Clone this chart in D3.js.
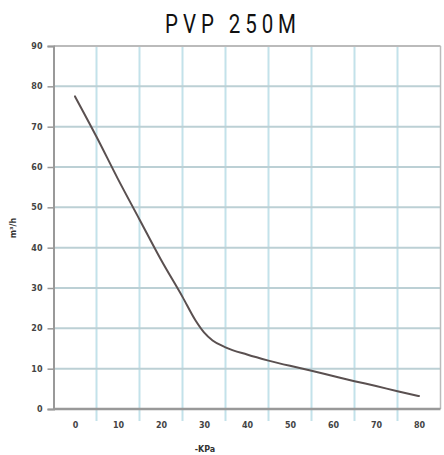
<!DOCTYPE html>
<html><head><meta charset="utf-8">
<script src="https://cdn.jsdelivr.net/npm/d3@7"></script>
<style>body{margin:0;background:#fff;} svg{display:block;}</style>
</head><body>
<svg id="chart" width="444" height="455"></svg>
<script>
const title = "PVP 250M";
const xLabel = "-KPa";
const yLabel = "m³/h";
const xTicks = [0,10,20,30,40,50,60,70,80];
const yTicks = [0,10,20,30,40,50,60,70,80,90];
const pressure = [0,5,10,15,20,25,28,30,32,35,40,45,50,55,60,65,70,75,80];
const flow = [77.5,67.5,57.0,47.0,37.0,27.8,22.0,19.0,17.0,15.3,13.5,12.0,10.7,9.5,8.2,6.9,5.7,4.4,3.2];

const svg = d3.select("#chart");
const x = d3.scaleLinear().domain([-5,85]).range([53.5,440.5]);
const y = d3.scaleLinear().domain([0,90]).range([409,46]);

// title
svg.append("text").attr("transform","translate(233,33) scale(0.82,1)").attr("text-anchor","middle")
  .attr("font-family","Roboto,sans-serif")
  .attr("font-size",25).attr("letter-spacing",6).attr("fill","#111").text(title);

// vertical gridlines (cell borders)
const vgrid = d3.range(-5,90,10);
svg.append("g").selectAll("line").data(vgrid.slice(1,-1)).join("line")
  .attr("x1",d=>x(d)).attr("x2",d=>x(d)).attr("y1",y(90)).attr("y2",y(0)+12)
  .attr("stroke","#c3e2ea").attr("stroke-width",2);
// horizontal gridlines
svg.append("g").selectAll("line").data(yTicks.filter(d=>d>0)).join("line")
  .attr("x1",x(-5)).attr("x2",x(85)).attr("y1",d=>y(d)).attr("y2",d=>y(d))
  .attr("stroke",d=>d===90?"#bbbbbb":"#bcd0d5").attr("stroke-width",2);
// right border
svg.append("line").attr("x1",x(85)).attr("x2",x(85)).attr("y1",y(90)).attr("y2",y(0))
  .attr("stroke","#bbbbbb").attr("stroke-width",1.5);

// y axis
const yAxis = svg.append("g").attr("transform",`translate(${x(-5)},0)`)
  .call(d3.axisLeft(y).tickValues(yTicks).tickSize(6).tickPadding(5));
yAxis.select(".domain").attr("stroke","#999").attr("stroke-width",2);
yAxis.selectAll(".tick line").attr("stroke","#999").attr("stroke-width",1.5);
yAxis.selectAll("text").attr("font-family","'DejaVu Sans',sans-serif").attr("font-weight","bold")
  .attr("font-size",8).attr("fill","#444");

// x axis
const xAxis = svg.append("g").attr("transform",`translate(0,${y(0)})`)
  .call(d3.axisBottom(x).tickValues(xTicks).tickSize(0).tickPadding(13));
xAxis.select(".domain").attr("stroke","#999").attr("stroke-width",2.5).attr("d",`M${x(-5)},0H${x(85)}`);
xAxis.selectAll("text").attr("font-family","'DejaVu Sans',sans-serif").attr("font-weight","bold")
  .attr("font-size",8).attr("fill","#444");

// axis labels
svg.append("text").attr("x",205).attr("y",452).attr("text-anchor","middle")
  .attr("font-family","'DejaVu Sans',sans-serif").attr("font-weight","bold").attr("font-size",8)
  .attr("fill","#333").text(xLabel);
svg.append("text").attr("transform","translate(16,228) rotate(-90)").attr("text-anchor","middle")
  .attr("font-family","'DejaVu Sans',sans-serif").attr("font-weight","bold").attr("font-size",8)
  .attr("fill","#333").text(yLabel);

// curve
const line = d3.line().x((d,i)=>x(pressure[i])).y(d=>y(d)).curve(d3.curveMonotoneX);
svg.append("path").datum(flow).attr("d",line).attr("fill","none")
  .attr("stroke","#5a5050").attr("stroke-width",2).attr("stroke-linecap","round");
</script>
</body></html>
